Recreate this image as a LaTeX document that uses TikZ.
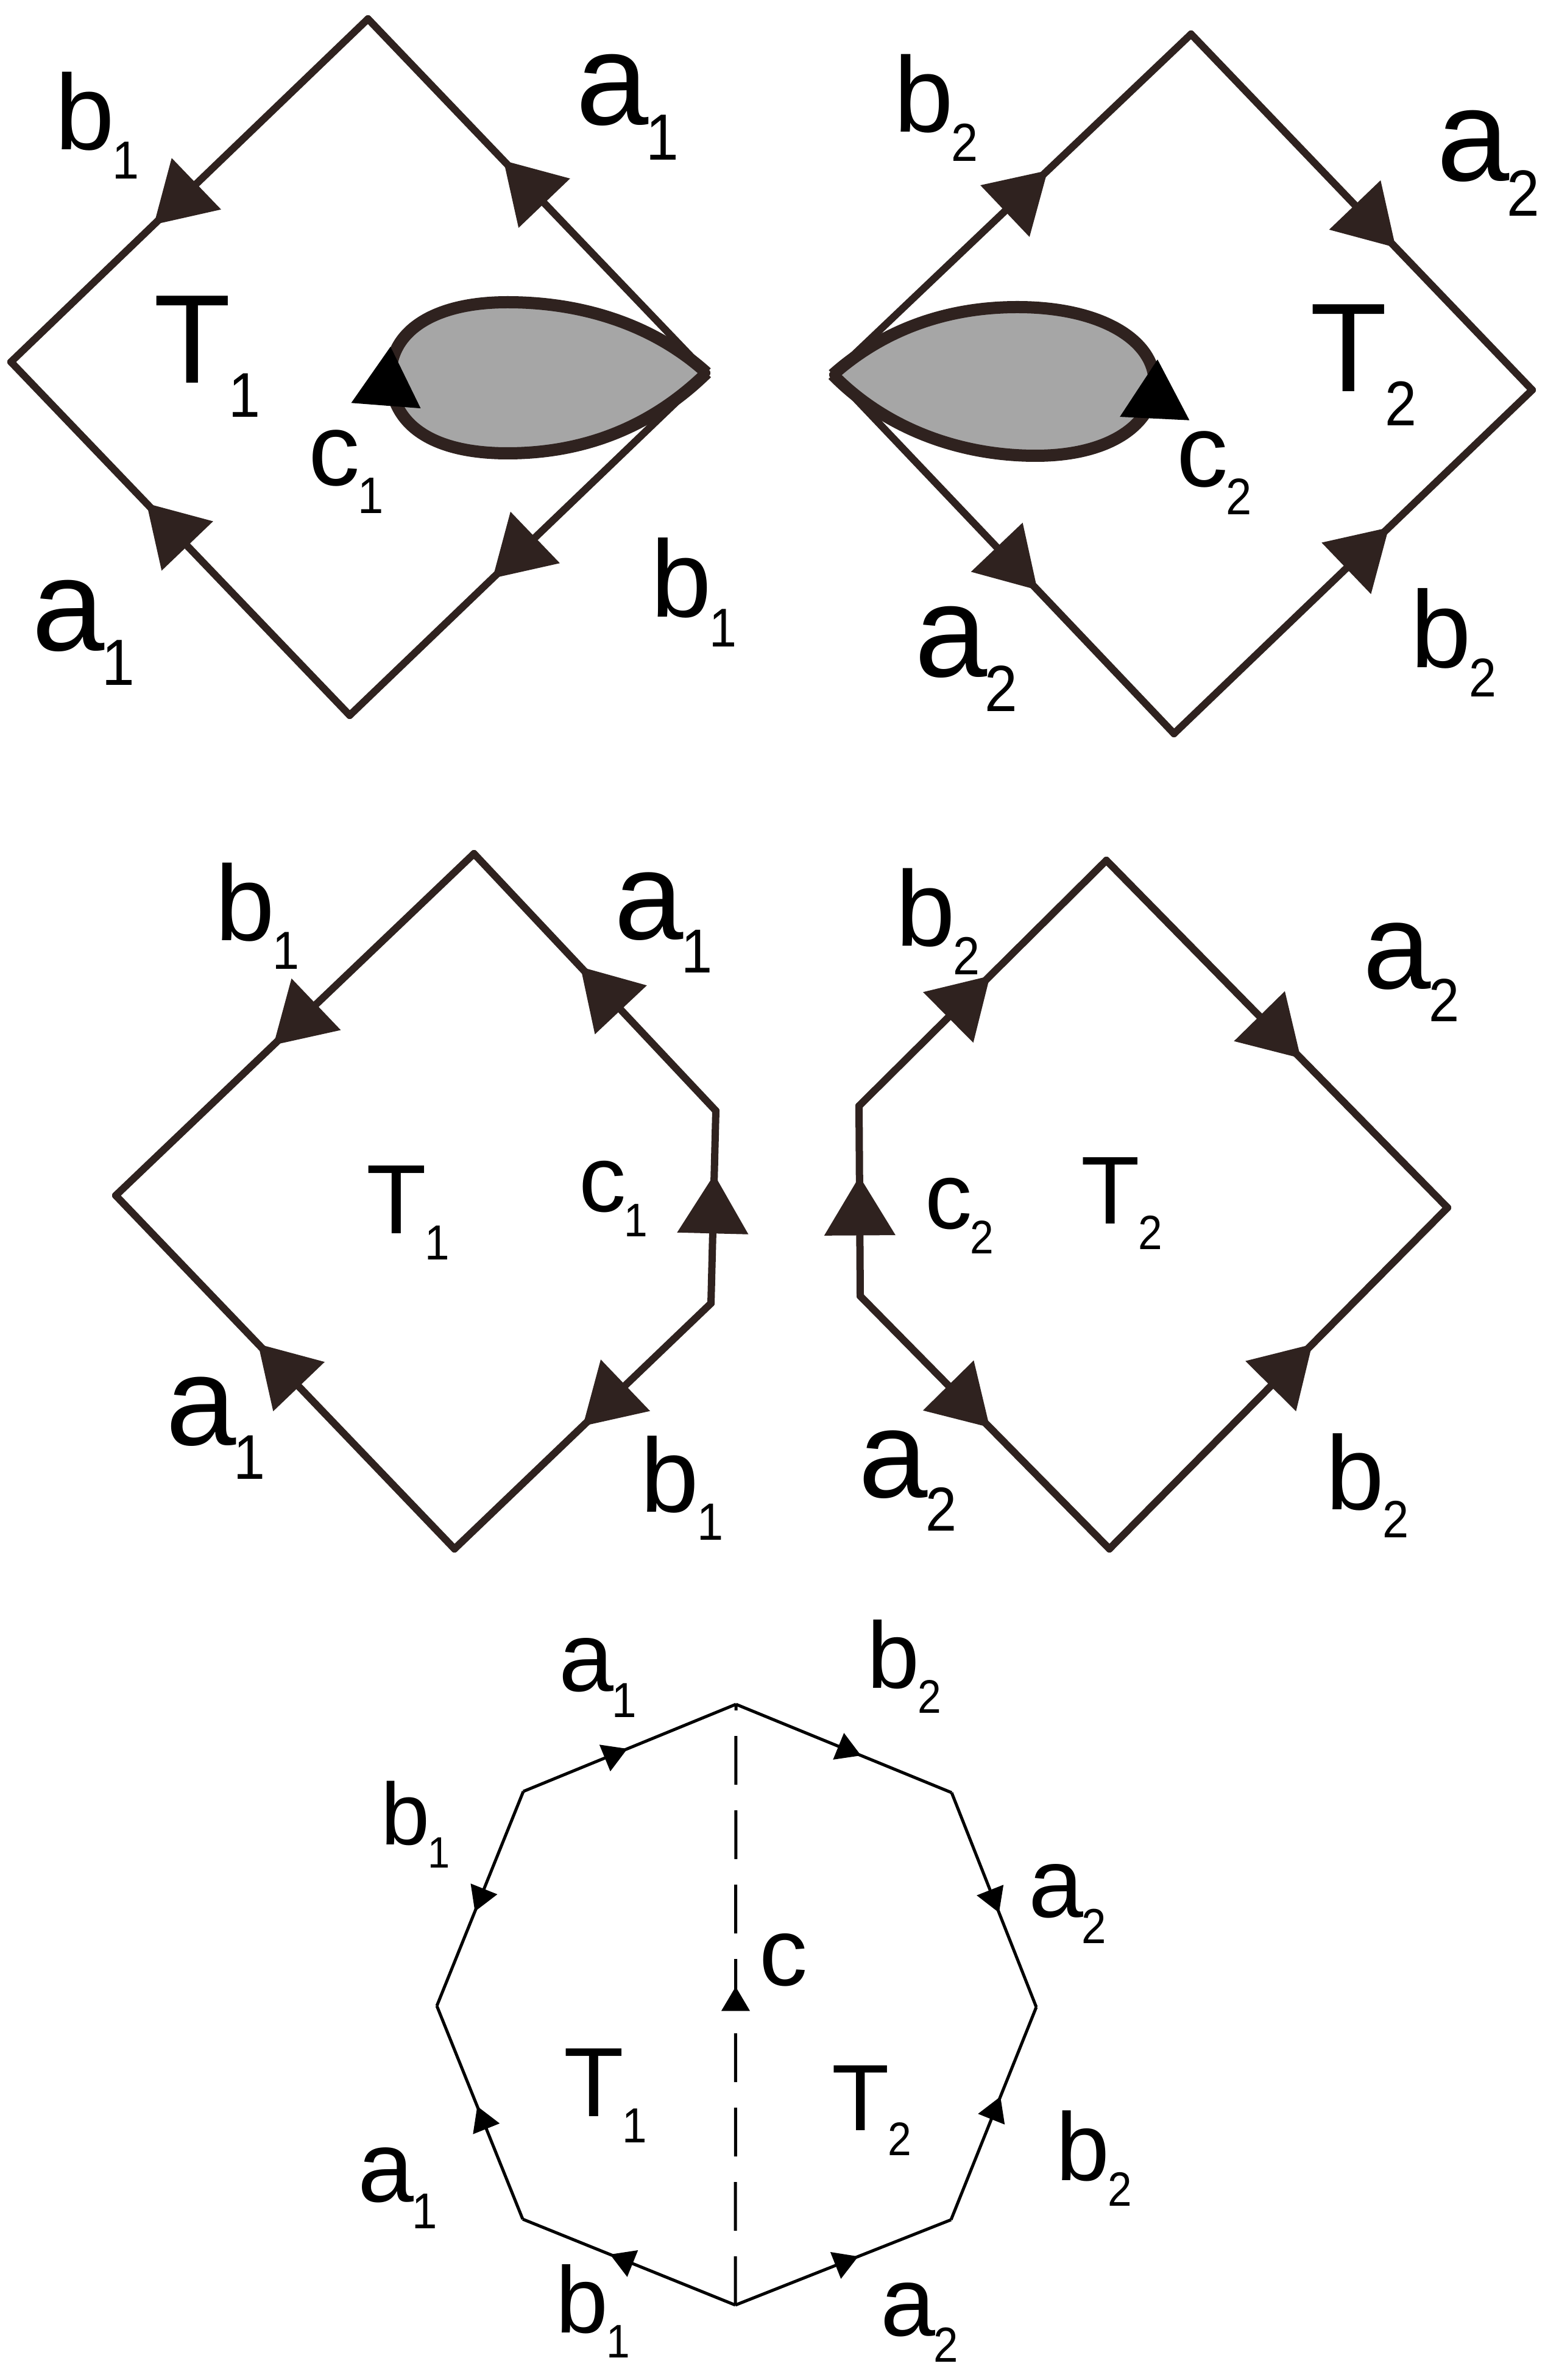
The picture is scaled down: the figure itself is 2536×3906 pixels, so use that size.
\documentclass[tikz,border=0pt]{standalone}
\usepackage{fontspec}
\setmainfont{Liberation Sans}
\usepackage{graphicx}
\usetikzlibrary{arrows.meta}
\usetikzlibrary{decorations.markings}
\definecolor{edge_brown}{HTML}{2F221F}
\definecolor{blob_gray}{HTML}{A6A6A6}
\newcommand{\sbs}[1]{\kern-0.02em\raisebox{-0.27em}{\scalebox{0.45}[0.5]{#1}}}
\tikzset{
	edge_thick/.style = {
		draw=edge_brown,
		line width=1.2mm,
		line join=round,
		line cap=round
	},
	edge_thin/.style = {
		draw=black,
		line width=0.5mm,
		line join=round
	},
	blob_line/.style = {
		draw=edge_brown,
		fill=blob_gray,
		line width=2mm,
		line join=round
	},
	mark_big/.style = {
		postaction={decorate},
		decoration={markings, mark=at position #1 with {\arrow{Triangle[length=9.7mm, width=11.4mm]}}}
	},
	mark_small/.style = {
		postaction={decorate},
		decoration={markings, mark=at position #1 with {\arrow{Triangle[length=4mm, width=4.6mm]}}}
	},
	dash_long/.style = {
		dash pattern=on 8mm off 4.2mm
	},
	lab/.style = {
		inner sep=0pt,
		anchor=base west,
		font=\fontsize{#1}{#1}\selectfont
	}
}

\begin{document}
\begin{tikzpicture}[x=0.1mm, y=-0.1mm]
\useasboundingbox (0,0) rectangle (2536,3906);

\coordinate (tlT) at (604,31);
\coordinate (tlL) at (18,594);
\coordinate (tlB) at (574,1174);
\coordinate (tlR) at (1160,612);
\coordinate (tl_c1_from) at (634,659);
\coordinate (tl_c1_to) at (641,569);

\filldraw[blob_line] (tlR) .. controls (1070,700) and (960,744) .. (833,744)
	.. controls (700,744) and (641,690) .. (641,616)
	.. controls (641,545) and (710,496) .. (833,496)
	.. controls (960,496) and (1075,535) .. (tlR);
\path[mark_big=1] (tl_c1_from) -- (tl_c1_to);
\draw[edge_thick, mark_big=0.6] (tlT) -- (tlL);
\draw[edge_thick, mark_big=0.6] (tlB) -- (tlL);
\draw[edge_thick, mark_big=0.6] (tlR) -- (tlT);
\draw[edge_thick, mark_big=0.6] (tlR) -- (tlB);

\node[lab=50] (tl_b1) at (90,246) {b\sbs{1}};
\node[lab=61] (tl_a1) at (945,205) {a\sbs{1}};
\node[lab=59] (tl_T1) at (252,629) {T\sbs{1}};
\node[lab=48] (tl_c1) at (506,797) {c\sbs{1}};
\node[lab=61] (tl_a1b) at (52,1067) {a\sbs{1}};
\node[lab=51] (tl_b1b) at (1068,1013) {b\sbs{1}};

\coordinate (trT) at (1955,56);
\coordinate (trL) at (1367,615);
\coordinate (trB) at (1927,1204);
\coordinate (trR) at (2515,640);
\coordinate (tr_c2_from) at (1896,671);
\coordinate (tr_c2_to) at (1900,590);

\filldraw[blob_line] (trL) .. controls (1450,700) and (1570,748) .. (1700,748)
	.. controls (1830,748) and (1895,690) .. (1895,628)
	.. controls (1895,560) and (1810,504) .. (1670,504)
	.. controls (1540,504) and (1440,550) .. (trL);
\path[mark_big=1] (tr_c2_from) -- (tr_c2_to);
\draw[edge_thick, mark_big=0.6] (trL) -- (trT);
\draw[edge_thick, mark_big=0.6] (trT) -- (trR);
\draw[edge_thick, mark_big=0.6] (trL) -- (trB);
\draw[edge_thick, mark_big=0.6] (trB) -- (trR);

\node[lab=50] (tr_b2) at (1467,217) {b\sbs{2}};
\node[lab=61] (tr_a2) at (2358,297) {a\sbs{2}};
\node[lab=59] (tr_T2) at (2150,643) {T\sbs{2}};
\node[lab=48] (tr_c2) at (1931,799) {c\sbs{2}};
\node[lab=61] (tr_a2b) at (1501,1110) {a\sbs{2}};
\node[lab=51] (tr_b2b) at (2315,1095) {b\sbs{2}};

\coordinate (mlT) at (778,1401);
\coordinate (mlL) at (190,1962);
\coordinate (mlB) at (746,2542);
\coordinate (mlRU) at (1175,1823);
\coordinate (mlRL) at (1167,2139);

\draw[edge_thick, mark_big=0.56] (mlT) -- (mlL);
\draw[edge_thick, mark_big=0.58] (mlB) -- (mlL);
\draw[edge_thick, mark_big=0.56] (mlRU) -- (mlT);
\draw[edge_thick, mark_big=0.5] (mlRL) -- (mlB);
\draw[edge_thick, mark_big=0.67] (mlRL) -- (mlRU);

\node[lab=50] (ml_b1) at (353,1543) {b\sbs{1}};
\node[lab=58] (ml_a1) at (1008,1541) {a\sbs{1}};
\node[lab=46] (ml_T1) at (601,2024) {T\sbs{1}};
\node[lab=44] (ml_c1) at (950,1988) {c\sbs{1}};
\node[lab=59] (ml_a1b) at (272,2371) {a\sbs{1}};
\node[lab=49] (ml_b1b) at (1051,2481) {b\sbs{1}};

\coordinate (mrT) at (1816,1412);
\coordinate (mrR) at (2376,1982);
\coordinate (mrB) at (1821,2542);
\coordinate (mrLU) at (1410,1815);
\coordinate (mrLL) at (1412,2127);

\draw[edge_thick, mark_big=0.53] (mrLU) -- (mrT);
\draw[edge_thick, mark_big=0.57] (mrT) -- (mrR);
\draw[edge_thick, mark_big=0.52] (mrLL) -- (mrB);
\draw[edge_thick, mark_big=0.6] (mrB) -- (mrR);
\draw[edge_thick, mark_big=0.63] (mrLL) -- (mrLU);

\node[lab=50] (mr_b2) at (1470,1552) {b\sbs{2}};
\node[lab=57] (mr_a2) at (2237,1622) {a\sbs{2}};
\node[lab=44] (mr_c2) at (1518,2016) {c\sbs{2}};
\node[lab=45] (mr_T2) at (1774,2008) {T\sbs{2}};
\node[lab=58] (mr_a2b) at (1409,2457) {a\sbs{2}};
\node[lab=49] (mr_b2b) at (2176,2477) {b\sbs{2}};

\coordinate (oT) at (1208,2797);
\coordinate (oUL) at (859,2940);
\coordinate (oL) at (717,3292);
\coordinate (oLL) at (858,3642);
\coordinate (oB) at (1207,3783);
\coordinate (oLR) at (1561,3643);
\coordinate (oR) at (1701,3294);
\coordinate (oUR) at (1562,2942);

\draw[edge_thin, mark_small=0.49] (oUL) -- (oT);
\draw[edge_thin, mark_small=0.58] (oT) -- (oUR);
\draw[edge_thin, mark_small=0.56] (oUL) -- (oL);
\draw[edge_thin, mark_small=0.56] (oUR) -- (oR);
\draw[edge_thin, mark_small=0.53] (oLL) -- (oL);
\draw[edge_thin, mark_small=0.58] (oLR) -- (oR);
\draw[edge_thin, mark_small=0.59] (oB) -- (oLL);
\draw[edge_thin, mark_small=0.57] (oB) -- (oLR);
\draw[edge_thin, dash_long, mark_small=0.53] (oB) -- (oT);

\node[lab=46] (o_a1) at (917,2775) {a\sbs{1}};
\node[lab=44] (o_b2) at (1423,2770) {b\sbs{2}};
\node[lab=41] (o_b1) at (625,3027) {b\sbs{1}};
\node[lab=46] (o_a2) at (1688,3146) {a\sbs{2}};
\node[lab=45] (o_c) at (1246,3258) {c};
\node[lab=46] (o_T1) at (925,3473) {T\sbs{1}};
\node[lab=44] (o_T2) at (1365,3496) {T\sbs{2}};
\node[lab=47] (o_a1b) at (587,3613) {a\sbs{1}};
\node[lab=45] (o_b2b) at (1733,3578) {b\sbs{2}};
\node[lab=44] (o_b1b) at (912,3828) {b\sbs{1}};
\node[lab=46] (o_a2b) at (1445,3833) {a\sbs{2}};
\end{tikzpicture}
\end{document}
